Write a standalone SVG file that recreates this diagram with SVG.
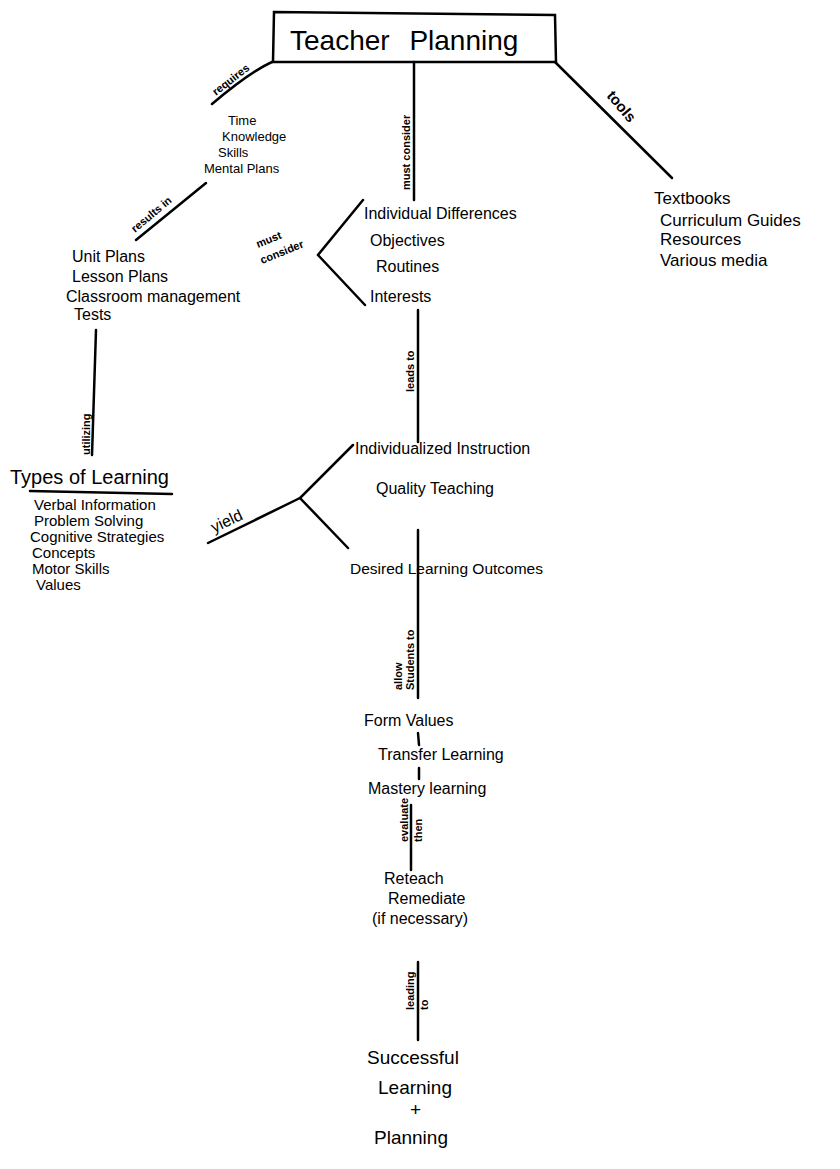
<svg xmlns="http://www.w3.org/2000/svg" width="840" height="1169" viewBox="0 0 840 1169">
<style>
  .t { font-family: "Liberation Sans", "DejaVu Sans", sans-serif; fill: #000; }
  .n { font-size: 16px; }
  .s { font-size: 13px; }
  .m { font-size: 15px; }
  .lbl { font-size: 11px; font-weight: bold; }
  .ln { stroke: #000; stroke-width: 2.5; fill: none; stroke-linecap: round; }
</style>
<rect width="840" height="1169" fill="#fff"/>

<!-- links between concepts -->
<g id="connectors">
  <path class="ln" d="M272 62 Q250 72 212 104"/>
  <path class="ln" d="M206 183 L136 240"/>
  <path class="ln" d="M96 330 L92 455"/>
  <path class="ln" d="M30 491 L172 494"/>
  <path class="ln" d="M414 62 L414 200"/>
  <path class="ln" d="M363 200 L318 255 L365 305"/>
  <path class="ln" d="M418 310 L418 442"/>
  <path class="ln" d="M353 445 L300 498 L348 548"/>
  <path class="ln" d="M300 498 L208 543"/>
  <path class="ln" d="M418 530 L418 698"/>
  <path class="ln" d="M418 733 L419 745"/>
  <path class="ln" d="M419 768 L419 779"/>
  <path class="ln" d="M411 805 L411 870"/>
  <path class="ln" d="M418 962 L418 1040"/>
  <path class="ln" d="M555 62 L672 178"/>
</g>

<g id="root">
  <path class="ln" d="M274 12 L555 15 L556 62 L273 62 Z"/>
  <text class="t" x="290" y="50" font-size="28" word-spacing="12">Teacher Planning</text>
</g>

<g id="lbl-requires"><text class="t lbl" transform="translate(216 96) rotate(-38)">requires</text></g>
<g id="needs">
  <text class="t s" x="228" y="125">Time</text>
  <text class="t s" x="222" y="141">Knowledge</text>
  <text class="t s" x="218" y="157">Skills</text>
  <text class="t s" x="204" y="173">Mental Plans</text>
</g>
<g id="lbl-results"><text class="t lbl" transform="translate(135 233) rotate(-40)">results in</text></g>
<g id="outputs">
  <text class="t n" x="72" y="262">Unit Plans</text>
  <text class="t n" x="72" y="282">Lesson Plans</text>
  <text class="t n" x="66" y="302">Classroom management</text>
  <text class="t n" x="74" y="320">Tests</text>
</g>
<g id="lbl-utilizing"><text class="t lbl" transform="translate(90 455) rotate(-90)">utilizing</text></g>
<g id="types">
  <text class="t" font-size="20" x="10" y="484">Types of Learning</text>
  <text class="t m" x="34" y="510">Verbal Information</text>
  <text class="t m" x="34" y="526">Problem Solving</text>
  <text class="t m" x="30" y="542">Cognitive Strategies</text>
  <text class="t m" x="32" y="558">Concepts</text>
  <text class="t m" x="32" y="574">Motor Skills</text>
  <text class="t m" x="36" y="590">Values</text>
</g>

<g id="lbl-mustconsider1"><text class="t lbl" transform="translate(410 190) rotate(-90)">must consider</text></g>
<g id="lbl-mustconsider2">
  <text class="t lbl" transform="translate(258 248) rotate(-22)">must</text>
  <text class="t lbl" transform="translate(262 264) rotate(-22)">consider</text>
</g>
<g id="considerations">
  <text class="t n" x="364" y="219">Individual Differences</text>
  <text class="t n" x="370" y="246">Objectives</text>
  <text class="t n" x="376" y="272">Routines</text>
  <text class="t n" x="370" y="302">Interests</text>
</g>
<g id="lbl-leads"><text class="t lbl" transform="translate(414 392) rotate(-90)">leads to</text></g>
<g id="instruction">
  <text class="t n" x="355" y="454">Individualized Instruction</text>
  <text class="t n" x="376" y="494">Quality Teaching</text>
  <text class="t" font-size="15.5" x="350" y="574">Desired Learning Outcomes</text>
</g>
<g id="lbl-yield"><text class="t" font-size="16" transform="translate(214 533) rotate(-25)">yield</text></g>
<g id="lbl-allow">
  <text class="t lbl" transform="translate(402 690) rotate(-90)">allow</text>
  <text class="t lbl" transform="translate(414 690) rotate(-90)">Students to</text>
</g>
<g id="abilities">
  <text class="t n" x="364" y="726">Form Values</text>
  <text class="t n" x="378" y="760">Transfer Learning</text>
  <text class="t n" x="368" y="794">Mastery learning</text>
</g>
<g id="lbl-evaluate">
  <text class="t lbl" transform="translate(408 842) rotate(-90)">evaluate</text>
  <text class="t lbl" transform="translate(422 842) rotate(-90)">then</text>
</g>
<g id="remediation">
  <text class="t n" x="384" y="884">Reteach</text>
  <text class="t n" x="388" y="904">Remediate</text>
  <text class="t n" x="372" y="924">(if necessary)</text>
</g>
<g id="lbl-leading">
  <text class="t lbl" transform="translate(414 1010) rotate(-90)">leading</text>
  <text class="t lbl" transform="translate(428 1010) rotate(-90)">to</text>
</g>
<g id="outcome">
  <text class="t" font-size="19" x="367" y="1064">Successful</text>
  <text class="t" font-size="19" x="378" y="1094">Learning</text>
  <text class="t" font-size="19" x="410" y="1116">+</text>
  <text class="t" font-size="19" x="374" y="1144">Planning</text>
</g>

<g id="lbl-tools"><text class="t" font-size="15" font-weight="bold" transform="translate(606 96) rotate(50)">tools</text></g>
<g id="tools">
  <text class="t" font-size="17" x="654" y="204">Textbooks</text>
  <text class="t" font-size="17" x="660" y="226">Curriculum Guides</text>
  <text class="t" font-size="17" x="660" y="245">Resources</text>
  <text class="t" font-size="17" x="660" y="266">Various media</text>
</g>
</svg>
